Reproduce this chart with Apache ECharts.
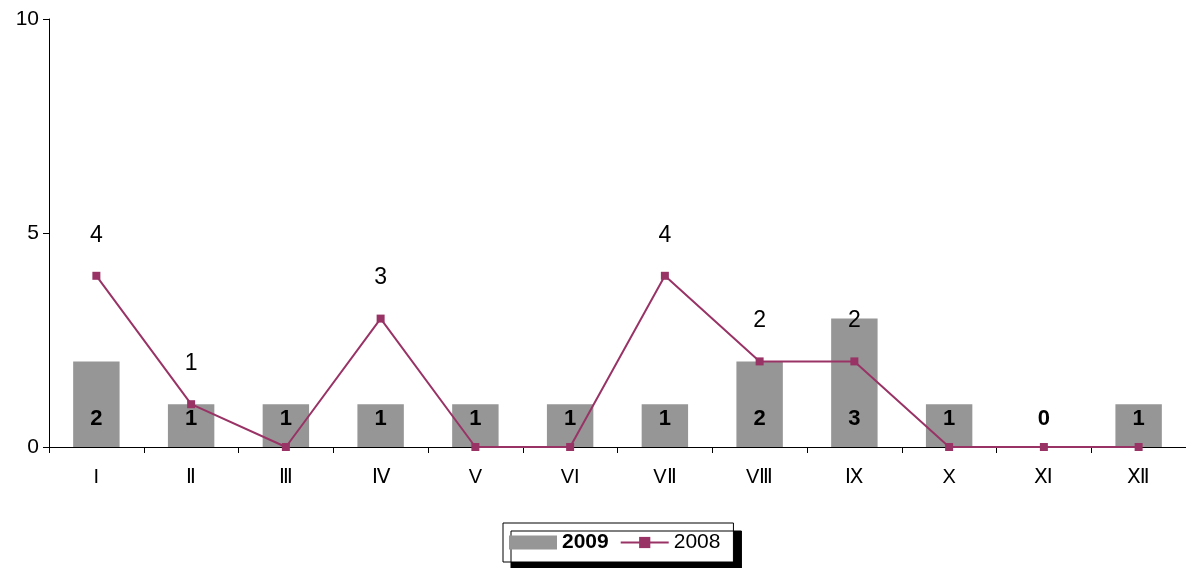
<!DOCTYPE html>
<html>
<head>
<meta charset="utf-8">
<script src="https://cdn.jsdelivr.net/npm/echarts@6/dist/echarts.min.js"></script>
<style>
html,body{margin:0;padding:0;background:#fff;}
#show{width:1186px;height:568px;}
</style>
</head>
<body>
<div id="show"></div>
<script>
var months = ['I', 'Ⅱ', 'Ⅲ', 'Ⅳ', 'V', 'VI', 'VⅡ', 'VⅢ', 'Ⅸ', 'X', 'Ⅺ', 'Ⅻ'];
var data2009 = [2, 1, 1, 1, 1, 1, 1, 2, 3, 1, 0, 1];
var data2008 = [4, 1, 0, 3, 0, 0, 4, 2, 2, 0, 0, 0];
var yTicks = [0, 5, 10];

var myChart = echarts.init(document.getElementById('show'));
var fnt = 'Liberation Sans, Arial, sans-serif';

var option = {
    animation: false,
    textStyle: {fontFamily: fnt},
    grid: {left: 49, top: 19, right: 0, bottom: 121, containLabel: false},
    legend: {
        left: 503, top: 523,
        padding: [9, 13, 9, 6],
        itemGap: 11,
        itemWidth: 48, itemHeight: 14,
        borderColor: '#000', borderWidth: 1,
        backgroundColor: '#fff',
        shadowColor: '#000', shadowBlur: 0, shadowOffsetX: 8, shadowOffsetY: 8,
        textStyle: {fontSize: 21, color: '#000', fontFamily: fnt},
        data: [
            {name: '2009', icon: 'rect', textStyle: {fontWeight: 'bold'}},
            {name: '2008'}
        ]
    },
    xAxis: {
        type: 'category',
        data: months,
        axisLine: {lineStyle: {color: '#000', width: 1}},
        axisTick: {show: true, length: 6, lineStyle: {color: '#000'}},
        axisLabel: {color: '#000', fontSize: 20, margin: 20, fontFamily: fnt}
    },
    yAxis: {
        type: 'value',
        min: 0, max: 10, interval: 5,
        splitLine: {show: false},
        axisLine: {show: true, lineStyle: {color: '#000', width: 1}},
        axisTick: {show: true, length: 6, lineStyle: {color: '#000'}},
        axisLabel: {
            color: '#000', fontSize: 21, margin: 10, fontFamily: fnt,
            formatter: function (v) { return yTicks.indexOf(v) >= 0 ? String(v) : ''; }
        }
    },
    series: [
        {
            name: '2009',
            type: 'bar',
            data: data2009,
            barWidth: '49%',
            itemStyle: {color: '#969696'},
            label: {
                show: true,
                position: 'insideBottom',
                distance: 17,
                color: '#000',
                fontSize: 22,
                fontWeight: 'bold',
                fontFamily: fnt
            },
            z: 1
        },
        {
            name: '2008',
            type: 'line',
            data: data2008,
            symbol: 'rect',
            symbolSize: 8,
            lineStyle: {color: '#993366', width: 2},
            itemStyle: {color: '#993366'},
            label: {
                show: true,
                position: 'top',
                distance: 25,
                color: '#000',
                fontSize: 23,
                fontFamily: fnt,
                formatter: function (p) { return p.value > 0 ? String(p.value) : ''; }
            },
            z: 3
        }
    ]
};
myChart.setOption(option);
</script>
</body>
</html>
